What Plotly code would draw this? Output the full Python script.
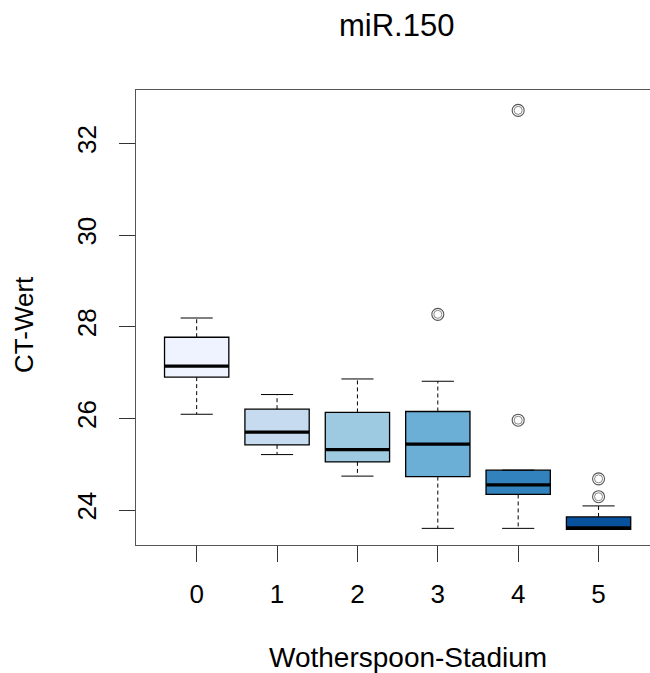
import plotly.graph_objects as go

# Box statistics per Wotherspoon stage (CT values of miR.150)
stages = ["0", "1", "2", "3", "4", "5"]
lower_whisker = [26.09, 25.21, 24.74, 23.60, 23.60, 23.58]
q1 = [26.90, 25.42, 25.05, 24.73, 24.34, 23.58]
median = [27.14, 25.70, 25.32, 25.44, 24.55, 23.61]
q3 = [27.77, 26.20, 26.13, 26.15, 24.87, 23.85]
upper_whisker = [28.19, 26.52, 26.86, 26.81, 24.87, 24.09]

# Outliers: stage index and value
outlier_stage = [3, 4, 4, 5, 5]
outlier_value = [28.27, 25.96, 32.72, 24.29, 24.68]

fills = ["#EFF3FF", "#C6DBEF", "#9ECAE1", "#6BAED6", "#3182BD", "#08519C"]

FONT = "Liberation Sans, Arial, Helvetica, sans-serif"
BOX_W = 0.8
CAP_W = 0.4

fig = go.Figure()

for i, s in enumerate(stages):
    # dashed whiskers
    fig.add_trace(go.Scatter(
        x=[i, i, None, i, i],
        y=[q3[i], upper_whisker[i], None, q1[i], lower_whisker[i]],
        mode="lines", line=dict(color="black", width=1, dash="4px,3px"),
        hoverinfo="skip", showlegend=False))
    # whisker caps
    fig.add_trace(go.Scatter(
        x=[i - CAP_W / 2, i + CAP_W / 2, None, i - CAP_W / 2, i + CAP_W / 2],
        y=[upper_whisker[i], upper_whisker[i], None, lower_whisker[i], lower_whisker[i]],
        mode="lines", line=dict(color="black", width=1),
        hoverinfo="skip", showlegend=False))
    # box body
    fig.add_trace(go.Box(
        x=[i], q1=[q1[i]], median=[median[i]], q3=[q3[i]],
        lowerfence=[q1[i]], upperfence=[q3[i]],
        width=BOX_W, whiskerwidth=0, boxpoints=False,
        fillcolor=fills[i], line=dict(color="black", width=1.3),
        name=s, showlegend=False))
    # thick median bar
    fig.add_trace(go.Scatter(
        x=[i - BOX_W / 2, i + BOX_W / 2], y=[median[i], median[i]],
        mode="lines", line=dict(color="black", width=3.2),
        hoverinfo="skip", showlegend=False))

# outlier rings
fig.add_trace(go.Scatter(
    x=outlier_stage, y=outlier_value, mode="markers",
    marker=dict(symbol="circle-open", size=12, color="#555555", line=dict(width=1.1)),
    showlegend=False))
fig.add_trace(go.Scatter(
    x=outlier_stage, y=outlier_value, mode="markers",
    marker=dict(symbol="circle-open", size=8, color="#888888", line=dict(width=1)),
    showlegend=False))

fig.update_layout(
    width=650, height=673,
    margin=dict(l=136, r=0, t=90, b=128),
    paper_bgcolor="white", plot_bgcolor="white",
    font=dict(family=FONT, color="black"),
    xaxis=dict(
        range=[-0.755, 5.64], tickmode="array",
        tickvals=list(range(len(stages))), ticktext=stages,
        showgrid=False, zeroline=False,
        showline=True, mirror=True, linecolor="#555555", linewidth=1.3,
        ticks="outside", ticklen=16, tickwidth=1, tickcolor="#333333",
        tickfont=dict(size=26, family=FONT), ticklabelstandoff=10),
    yaxis=dict(
        range=[23.237, 33.165], tickvals=[24, 26, 28, 30, 32],
        showgrid=False, zeroline=False,
        showline=True, linecolor="#555555", linewidth=1.3,
        ticks="outside", ticklen=16, tickwidth=1, tickcolor="#333333",
        tickangle=-90, tickfont=dict(size=26, family=FONT), ticklabelstandoff=12),
    annotations=[
        dict(text="miR.150", xref="paper", yref="paper", x=0.5068, y=1.1407,
             xanchor="center", yanchor="middle", showarrow=False,
             font=dict(size=31, family=FONT)),
        dict(text="Wotherspoon-Stadium", xref="paper", yref="paper", x=0.529, y=-0.2462,
             xanchor="center", yanchor="middle", showarrow=False,
             font=dict(size=28, family=FONT)),
        dict(text="CT-Wert", xref="paper", yref="paper", x=-0.2179, y=0.4857,
             xanchor="center", yanchor="middle", showarrow=False, textangle=-90,
             font=dict(size=26, family=FONT)),
    ],
)

fig.write_html("out.html")
